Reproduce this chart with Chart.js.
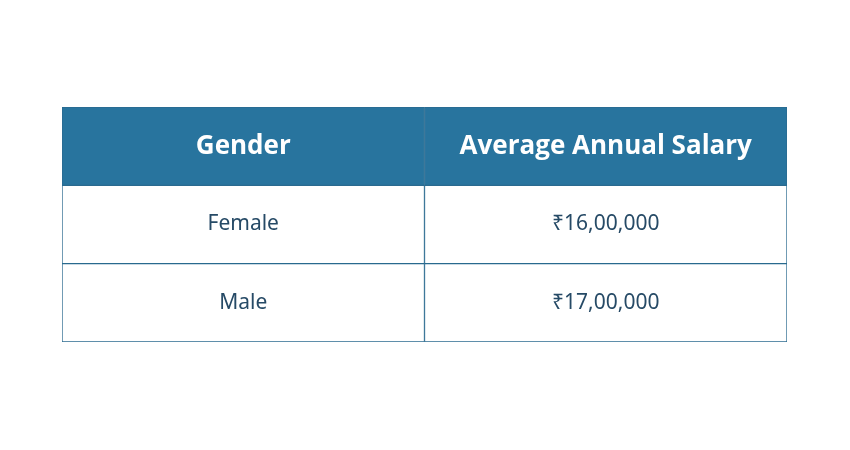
<!DOCTYPE html>
<html><head><meta charset="utf-8">
<script src="https://cdn.jsdelivr.net/npm/chart.js@4"></script>
<style>html,body{margin:0;background:#fff}#c{display:block}</style>
</head><body>
<canvas id="c" width="850" height="450"></canvas>
<script>
const headers = ['Gender', 'Average Annual Salary'];
const genders = ['Female', 'Male'];
const salaries = ['₹16,00,000', '₹17,00,000'];

const rows = [headers[0]].concat(genders);
const col1Text = [headers[0]].concat(genders);
const col2Text = [headers[1]].concat(salaries);
const HEAD = '#28749e', LINE = '#2a6a8f', BODY = '#264a66';

const textPlugin = {
  id: 'cellText',
  afterDatasetsDraw(chart) {
    const ctx = chart.ctx;
    [col1Text, col2Text].forEach((texts, di) => {
      chart.getDatasetMeta(di).data.forEach((bar, i) => {
        const p = bar.getProps(['x', 'y', 'base'], true);
        const cx = (p.x + p.base) / 2;
        ctx.save();
        ctx.textAlign = 'center'; ctx.textBaseline = 'middle';
        if (i === 0) { ctx.fillStyle = '#fff'; ctx.font = 'bold 26px "Open Sans", "Noto Sans", sans-serif'; }
        else { ctx.fillStyle = BODY; ctx.font = '21px "Noto Sans", "DejaVu Sans", sans-serif'; }
        ctx.fillText(texts[i], cx, p.y);
        ctx.restore();
      });
    });
  }
};

const bg = c => c.dataIndex === 0 ? HEAD : '#ffffff';
new Chart(document.getElementById('c'), {
  type: 'bar',
  data: {
    labels: rows,
    datasets: [
      { data: rows.map(() => [0, 1]), backgroundColor: bg, borderColor: LINE, borderWidth: 1, borderSkipped: false },
      { data: rows.map(() => [1, 2]), backgroundColor: bg, borderColor: LINE, borderWidth: 1, borderSkipped: false }
    ]
  },
  options: {
    indexAxis: 'y', responsive: false, animation: false,
    layout: { padding: { left: 62, right: 63, top: 107, bottom: 108 } },
    datasets: { bar: { grouped: false, categoryPercentage: 1, barPercentage: 1 } },
    scales: {
      x: { display: false, min: 0, max: 2 },
      y: { display: false }
    },
    plugins: { legend: { display: false }, tooltip: { enabled: false } }
  },
  plugins: [textPlugin]
});
</script>
</body></html>
